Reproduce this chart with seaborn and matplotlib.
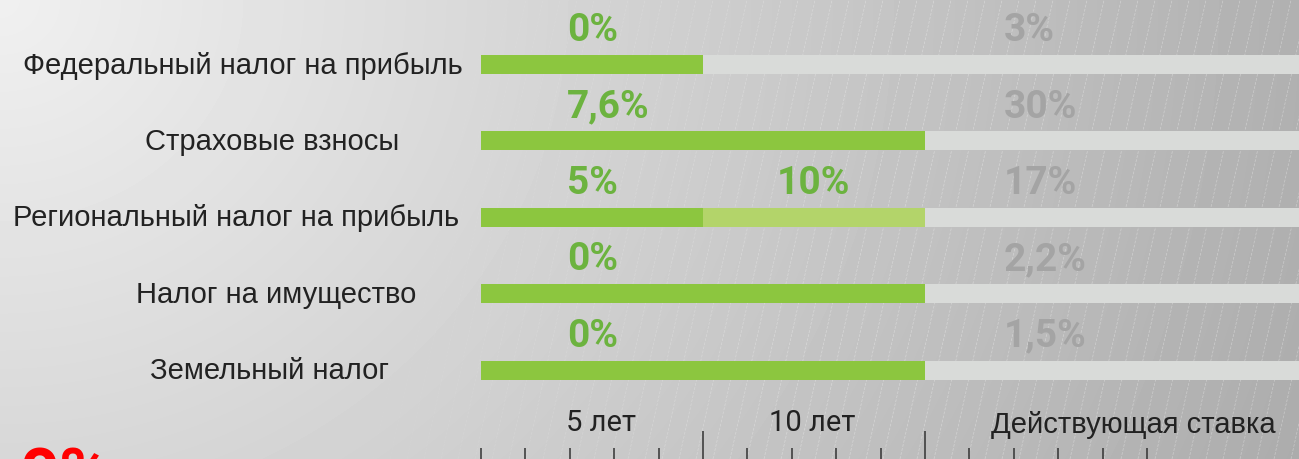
import numpy as np
import pandas as pd
import matplotlib
matplotlib.use("Agg")
import matplotlib.pyplot as plt
import matplotlib.transforms as mtransforms
import seaborn as sns

# data: tax benefits by period (years) and rates
taxes = ["Федеральный налог на прибыль", "Страховые взносы",
         "Региональный налог на прибыль", "Налог на имущество", "Земельный налог"]
period1_years = [5, 10, 5, 10, 10]
period2_years = [0, 0, 5, 0, 0]
rate1 = [0, 7.6, 5, 0, 0]
rate2 = [None, None, 10, None, None]
current_rate = [3, 30, 17, 2.2, 1.5]
period_labels = ["5 лет", "10 лет", "Действующая ставка"]

df = pd.DataFrame({
    "tax": taxes,
    "p1": period1_years,
    "total": np.array(period1_years) + np.array(period2_years),
    "full": 20,
})


def fmt(v):
    return f"{v:g}".replace(".", ",") + "%"


W, H = 1299, 459
sns.set_theme(style="white")
plt.rcParams["font.family"] = ["Roboto", "DejaVu Sans"]

fig = plt.figure(figsize=(W / 100, H / 100), dpi=100)

# background gradient + hatch lines
bg = fig.add_axes([0, 0, 1, 1], zorder=0)
yy, xx = np.mgrid[0:H, 0:W]
shade = np.clip(240 - 0.049 * np.hypot(xx, yy * 1.1), 160, 245) / 255
bg.imshow(shade, cmap="gray", vmin=0, vmax=1, extent=(0, W, H, 0), aspect="auto")
for x0 in range(-120, W + 20, 17):
    a = np.clip((x0 - 330) / 450, 0, 1) * 0.35
    if a > 0:
        bg.plot([x0, x0 + 102], [H, 0], color="white", lw=0.5, alpha=a,
                dashes=(4, 2))
bg.set_xlim(0, W)
bg.set_ylim(H, 0)
bg.axis("off")

left = 481
px_per_year = 44.4
row0, row_step = 64.5, 76.4
ax = fig.add_axes([left / W, 0, 1 - left / W, 1], zorder=1)
ax.patch.set_alpha(0)

bar_kw = dict(orient="h", saturation=1, width=0.25, linewidth=0, ax=ax)
sns.barplot(data=df, x="full", y="tax", color="#d9dbd9", **bar_kw)
sns.barplot(data=df, x="total", y="tax", color="#b3d46a", **bar_kw)
sns.barplot(data=df, x="p1", y="tax", color="#8cc63f", **bar_kw)

ax.set_xlim(0, (W - left) / px_per_year)
ax.set_ylim((H - row0) / row_step, -row0 / row_step)
ax.set_xlabel("")
ax.set_ylabel("")
ax.set_yticks([])
for s in ax.spines.values():
    s.set_visible(False)

ax.set_xticks([5, 10])
ax.set_xticks([0, 1, 2, 3, 4, 6, 7, 8, 9, 11, 12, 13, 14, 15], minor=True)
ax.tick_params(axis="x", which="major", direction="in", length=20, width=1.1,
               color="#333333", labelbottom=False, bottom=True)
ax.tick_params(axis="x", which="minor", direction="in", length=8, width=1.1,
               color="#333333", bottom=True)

# value labels
for i in range(len(taxes)):
    y = i - 0.305
    ax.text(1.94, y, fmt(rate1[i]), color="#6cb33f", fontsize=28,
            fontweight="bold", va="baseline", ha="left")
    if rate2[i] is not None:
        ax.text(6.67, y, fmt(rate2[i]), color="#6cb33f", fontsize=28,
                fontweight="bold", va="baseline", ha="left")
    ax.text(11.78, y, fmt(current_rate[i]), color="#a4a4a4", fontsize=28,
            fontweight="bold", va="baseline", ha="left")

# category labels on the left
label_centers = [243, 272, 236, 276, 270]
blend = mtransforms.blended_transform_factory(fig.transFigure, ax.transData)
for i, name in enumerate(taxes):
    ax.text(label_centers[i] / W, i + 0.12, name, transform=blend,
            ha="center", va="baseline", fontsize=21, color="#222222",
            family=["Liberation Sans", "DejaVu Sans"])

# period labels
xt = ax.get_xaxis_transform()
ax.text(2.7, 1 - 431 / H, period_labels[0], transform=xt, ha="center",
        va="baseline", fontsize=21, color="#222222")
ax.text(7.45, 1 - 431 / H, period_labels[1], transform=xt, ha="center",
        va="baseline", fontsize=21, color="#222222")
ax.text(14.7, 1 - 433 / H, period_labels[2], transform=xt, ha="center",
        va="baseline", fontsize=21, color="#222222",
        family=["Liberation Sans", "DejaVu Sans"])

fig.text(20 / W, -(497 - H) / H, "0%", color="#ff0000", fontsize=50,
         fontweight="bold", ha="left", va="baseline")

fig.savefig("out.png", dpi=100)
